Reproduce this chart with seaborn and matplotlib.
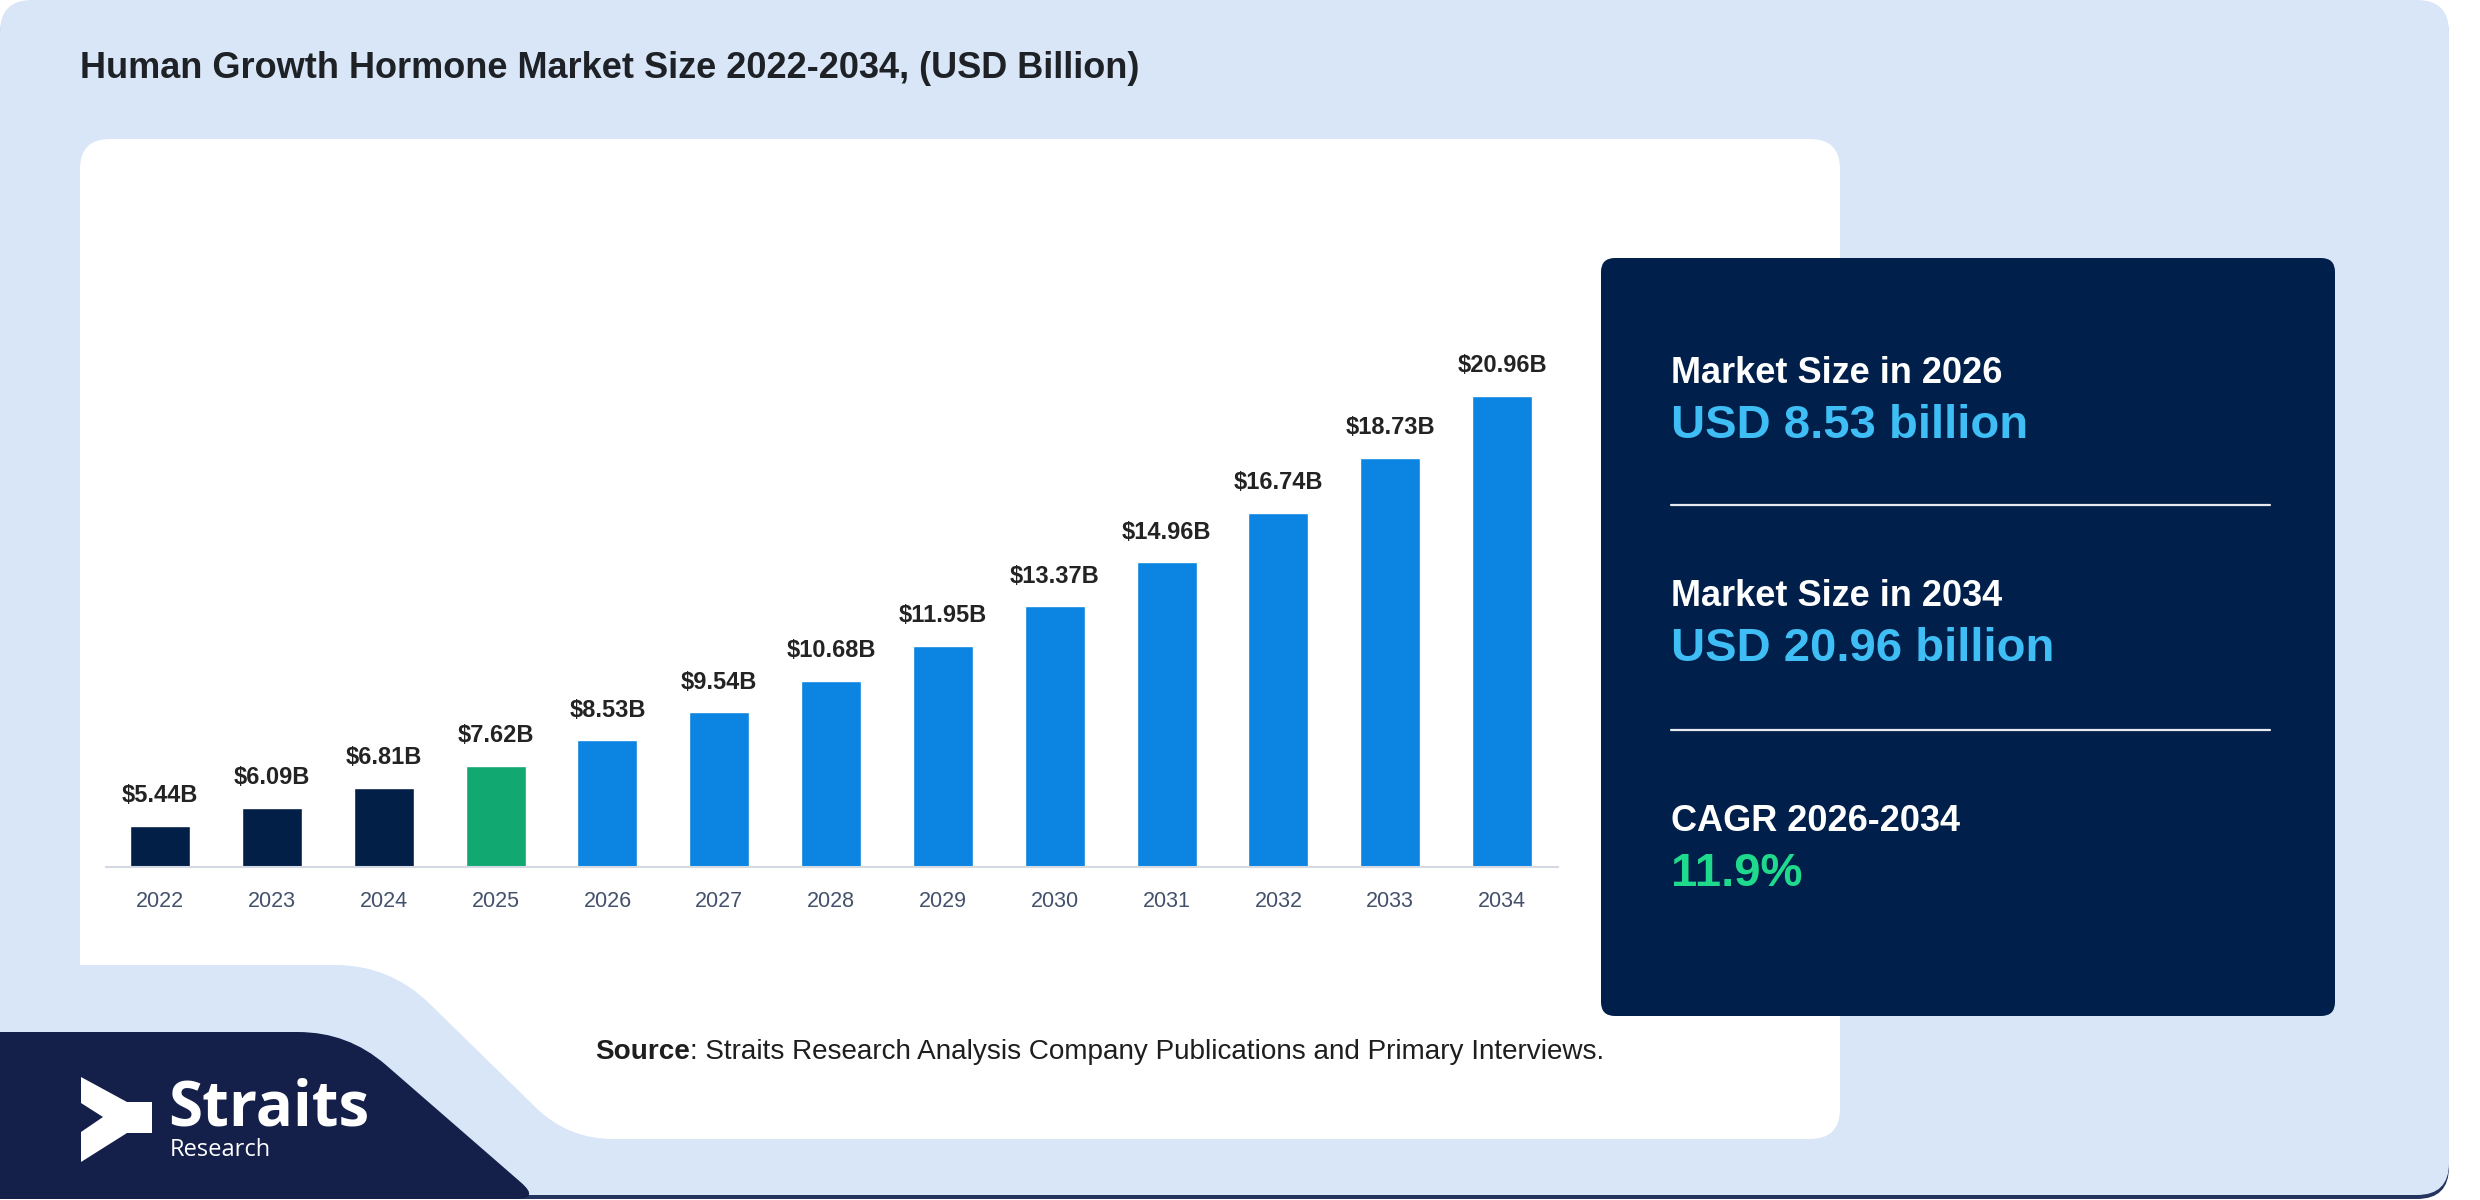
# -*- coding: utf-8 -*-
# Human Growth Hormone market size bar chart (Straits Research style)

import numpy as np
import matplotlib.pyplot as plt
from matplotlib.patches import FancyBboxPatch, Polygon, PathPatch
from matplotlib.path import Path
import seaborn as sns

# data
years = ["2022", "2023", "2024", "2025", "2026", "2027", "2028",
         "2029", "2030", "2031", "2032", "2033", "2034"]
market_size = [5.44, 6.09, 6.81, 7.62, 8.53, 9.54, 10.68,
               11.95, 13.37, 14.96, 16.74, 18.73, 20.96]
bar_colors = ["#021F48"] * 3 + ["#11A871"] + ["#0B84E2"] * 9
value_labels = [f"${v:.2f}B" for v in market_size]

title_text = "Human Growth Hormone Market Size 2022-2034, (USD Billion)"
source_bold = "Source"
source_rest = ": Straits Research Analysis Company Publications and Primary Interviews."
panel_items = [
    ("Market Size in 2026", "USD 8.53 billion", "#3EBEF4"),
    ("Market Size in 2034", "USD 20.96 billion", "#3EBEF4"),
    ("CAGR 2026-2034", "11.9%", "#1FD98C"),
]

# colours
bg_blue = "#D9E6F8"
navy_logo = "#14204A"
navy_panel = "#001F4A"


def rounded_path(pts, radii):
    """closed polygon with corners rounded by quadratic curves"""
    pts = np.asarray(pts, dtype=float)
    n = len(pts)
    verts, codes = [], []
    for i in range(n):
        p0, p1, p2 = pts[i - 1], pts[i], pts[(i + 1) % n]
        r = radii[i]
        if r <= 0:
            a = b = p1
        else:
            d0 = (p0 - p1) / np.linalg.norm(p0 - p1)
            d2 = (p2 - p1) / np.linalg.norm(p2 - p1)
            a, b = p1 + d0 * r, p1 + d2 * r
        verts.append(a)
        codes.append(Path.MOVETO if i == 0 else Path.LINETO)
        verts += [p1, b]
        codes += [Path.CURVE3, Path.CURVE3]
    verts.append(verts[0])
    codes.append(Path.CLOSEPOLY)
    return Path(verts, codes)


sns.set_theme(style="white")
plt.rcParams["font.family"] = ["Liberation Sans", "DejaVu Sans"]

W, H = 2480, 1200
fig = plt.figure(figsize=(W / 100, H / 100), dpi=100, facecolor="white")

# background layer in pixel coordinates
bg = fig.add_axes([0, 0, 1, 1], zorder=0)
bg.set_xlim(0, W)
bg.set_ylim(H, 0)
bg.axis("off")

# outer light card with a thin dark shadow at the bottom
bg.add_patch(FancyBboxPatch((0, 4), 2449, 1195,
                            boxstyle="round,pad=0,rounding_size=32",
                            fc="#24345E", ec="none"))
bg.add_patch(FancyBboxPatch((0, 0), 2449, 1195,
                            boxstyle="round,pad=0,rounding_size=32",
                            fc=bg_blue, ec="none"))
# white chart card
bg.add_patch(FancyBboxPatch((80, 139), 1760, 1000,
                            boxstyle="round,pad=0,rounding_size=30",
                            fc="white", ec="none"))
# notch cut out of the card, bottom left
notch = rounded_path([(60, 965), (390, 965), (568, 1139), (720, 1139),
                      (720, 1170), (60, 1170)], [0, 55, 45, 0, 0, 0])
bg.add_patch(PathPatch(notch, fc=bg_blue, ec="none"))
# logo block
logo_blk = rounded_path([(0, 1032), (348, 1032), (540, 1199), (0, 1199)],
                        [0, 50, 25, 0])
bg.add_patch(PathPatch(logo_blk, fc=navy_logo, ec="none"))
# logo mark
bg.add_patch(Polygon([(81, 1077), (127, 1102), (152, 1102), (152, 1133),
                      (127, 1133), (81, 1162), (81, 1132), (103, 1117),
                      (81, 1103)], closed=True, fc="white", ec="none"))
bg.text(168, 1125, "Straits", color="white", fontsize=44.5, fontweight="bold",
        family=["Open Sans", "DejaVu Sans"], va="baseline", ha="left")
bg.text(170, 1156, "Research", color="white", fontsize=17,
        family=["Open Sans", "DejaVu Sans"], va="baseline", ha="left")

# title
bg.text(80, 78, title_text, color="#1E2226", fontsize=26, fontweight="bold",
        va="baseline", ha="left")

# source line
src = bg.text(595, 1059, source_bold, color="#1E1E1E", fontsize=20.1,
              fontweight="bold", va="baseline", ha="left")
bg.annotate(source_rest, xy=(1, 0), xycoords=src, color="#1E1E1E",
            fontsize=20.1, va="bottom", ha="left")

# right summary panel
bg.add_patch(FancyBboxPatch((1601, 258), 734, 758,
                            boxstyle="round,pad=0,rounding_size=14",
                            fc=navy_panel, ec="none"))
head_y = [383, 606, 831]
for (head, val, col), y in zip(panel_items, head_y):
    bg.text(1671, y, head, color="white", fontsize=26, fontweight="bold",
            va="baseline", ha="left")
    bg.text(1671, y + 55, val, color=col, fontsize=34, fontweight="bold",
            va="baseline", ha="left")
for y in [505, 730]:
    bg.plot([1671, 2270], [y, y], color="#E6EAF0", lw=1.6)

# bar chart
ax = fig.add_axes([106 / W, 1 - 867 / H, 1452 / W, 627 / H], zorder=2)
ax.set_facecolor("none")
sns.barplot(x=years, y=market_size, hue=years, palette=bar_colors,
            legend=False, width=0.537, saturation=1, ax=ax)
for container, lab in zip(ax.containers, value_labels):
    ax.bar_label(container, labels=[lab], padding=13.5, fontsize=17,
                 fontweight="bold", color="#232323")

ax.set_xlim(-0.484, 12.5)
ax.set_ylim(3.96, 3.96 + 627 / 27.7)
ax.set_yticks([])
ax.set_xlabel("")
ax.set_ylabel("")
for side in ["top", "right", "left"]:
    ax.spines[side].set_visible(False)
ax.spines["bottom"].set_color("#D5DAE2")
ax.spines["bottom"].set_linewidth(1.5)
ax.tick_params(axis="x", length=0, pad=17, labelsize=15.5, labelcolor="#44516C")

fig.savefig("out.png", dpi=100, facecolor="white")
